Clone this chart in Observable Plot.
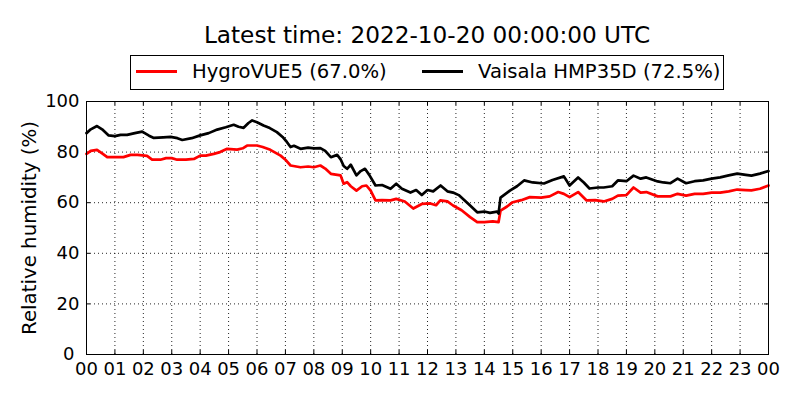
<!DOCTYPE html>
<html>
<head>
<meta charset="utf-8">
<script src="https://cdn.jsdelivr.net/npm/d3@7"></script>
<script src="https://cdn.jsdelivr.net/npm/@observablehq/plot@0.6"></script>
<style>
  html, body { margin: 0; padding: 0; background: #fff; }
  body { width: 800px; height: 400px; overflow: hidden; font-family: "DejaVu Sans", sans-serif; }
  #head { position: relative; width: 800px; height: 95px; }
  #title { position: absolute; left: 86px; width: 682px; top: 23px; text-align: center; font-size: 23.2px; line-height: 23.2px; white-space: nowrap; }
  #legend { position: absolute; left: 130px; top: 55px; width: 594px; height: 35px; box-sizing: border-box; border: 1px solid #000; }
  .sw { position: absolute; height: 3px; width: 41px; top: 14px; }
  .lt { position: absolute; top: 6px; font-size: 19.6px; line-height: 19.6px; white-space: nowrap; }
</style>
</head>
<body>
<div id="head">
  <div id="title"></div>
  <div id="legend"></div>
</div>
<div id="chart"></div>
<script>
// ---- data (hours since 2022-10-19 00:00 UTC, relative humidity %) ----
const titleText = "Latest time: 2022-10-20 00:00:00 UTC";
const yLabel = "Relative humidity (%)";
const seriesNames = ["HygroVUE5 (67.0%)", "Vaisala HMP35D (72.5%)"];
const seriesColors = ["#ff0000", "#000000"];

const hygroHours = [0.0,0.15,0.37,0.55,0.73,1.0,1.3,1.55,1.8,2.13,2.31,2.6,2.8,3.0,3.19,3.5,3.78,4.0,4.2,4.48,4.7,4.95,5.3,5.5,5.65,6.0,6.2,6.47,6.83,7.0,7.18,7.53,7.8,8.0,8.23,8.4,8.6,8.94,9.05,9.17,9.3,9.5,9.7,9.85,10.0,10.17,10.4,10.7,10.9,11.2,11.5,11.8,12.1,12.3,12.45,12.7,12.9,13.2,13.5,13.75,14.0,14.3,14.5,14.57,14.8,15.0,15.3,15.6,16.0,16.3,16.6,16.8,17.0,17.3,17.6,17.9,18.2,18.5,18.7,19.0,19.25,19.5,19.7,20.1,20.55,20.8,21.1,21.4,21.7,22.0,22.3,22.6,22.9,23.2,23.4,23.7,24.0];
const hygroRH = [79.3,80.5,80.9,79.5,78,78,78,78.9,78.9,78.5,77,77,77.6,77.6,77,77,77.3,78.6,78.6,79.3,80,81.3,81,81.5,82.6,82.6,82,80.9,78.6,77,74.7,74,74.3,74,74.7,73.5,71.4,70.8,67.5,68.1,66.5,64.8,66.5,66.8,64.8,60.9,61,60.9,61.5,60.5,57.7,59.5,59.7,59,60.9,60.5,58.9,57,54.3,52.3,52.3,52.6,52.3,56.9,58.5,60.2,61,62.2,62,62.5,64.2,63.5,62.2,64.2,60.9,61,60.5,61.5,62.8,63,66,64,64.2,62.5,62.5,63.5,62.8,63.5,63.5,64,64,64.5,65.2,65,64.9,65.5,66.8];

const vaisalaHours = [0.0,0.15,0.37,0.55,0.78,1.0,1.2,1.43,1.7,1.96,2.2,2.37,2.7,2.96,3.2,3.37,3.7,4.0,4.3,4.6,4.9,5.18,5.35,5.53,5.7,5.83,6.0,6.23,6.45,6.7,6.9,7.05,7.18,7.3,7.53,7.8,8.0,8.23,8.4,8.6,8.82,8.95,9.05,9.17,9.3,9.5,9.65,9.8,9.95,10.17,10.4,10.7,10.9,11.1,11.4,11.6,11.8,12.0,12.2,12.46,12.7,12.9,13.1,13.3,13.5,13.75,14.0,14.2,14.45,14.5,14.57,14.9,15.15,15.4,15.7,16.1,16.4,16.8,17.0,17.3,17.5,17.7,18.0,18.2,18.5,18.7,19.0,19.25,19.5,19.7,20.1,20.3,20.55,20.8,21.1,21.4,21.7,22.0,22.3,22.6,22.9,23.2,23.4,23.7,24.0];
const vaisalaRH = [87.5,89,90.3,89,86.6,86.3,86.8,86.8,87.5,88.1,86.5,85.6,85.8,86,85.5,84.8,85.5,86.6,87.5,88.9,89.8,90.8,90,89.6,91.5,92.5,91.8,90.5,89.5,87.9,86,84,82,82.5,81.3,81.8,81.5,81.6,80.5,78,78.9,77,74.5,73.4,75,70.8,72.5,73.4,71,66.8,67,65.5,67.5,65.5,64,65,63,65,64.5,66.8,64.5,64,63,61,58.9,56.2,56.5,56,56.5,55.7,62,64.8,66.5,68.8,68,67.6,69,70.4,66.8,70,68,65.6,66,66,66.5,68.8,68.5,70.7,69.5,70,68.4,68,67.7,69.5,67.7,68.5,68.8,69.5,70,70.8,71.5,71,70.7,71.5,72.5];

const xTicks = d3.range(0, 25);
const yTicks = [0, 20, 40, 60, 80, 100];
const xTickLabels = xTicks.map(h => String(h % 24).padStart(2, "0"));

// ---- header (title + legend) ----
document.getElementById("title").textContent = titleText;
const legend = document.getElementById("legend");
const swLeft = [5, 291], txtLeft = [61, 347];
seriesNames.forEach((name, i) => {
  const sw = document.createElement("div");
  sw.className = "sw"; sw.style.left = swLeft[i] + "px"; sw.style.background = seriesColors[i];
  legend.appendChild(sw);
  const t = document.createElement("div");
  t.className = "lt"; t.style.left = txtLeft[i] + "px"; t.textContent = name;
  legend.appendChild(t);
});

// ---- chart ----
const hygro = hygroHours.map((h, i) => ({h, v: hygroRH[i]}));
const vaisala = vaisalaHours.map((h, i) => ({h, v: vaisalaRH[i]}));

const W = 800, H = 305, mL = 86, mR = 32, mT = 6, mB = 46;
const innerW = W - mL - mR, innerH = H - mT - mB;
const tk = 4;
const gridStyle = {stroke: "#000", strokeOpacity: 0.85, strokeWidth: 1, strokeDasharray: "1,3"};

const chart = Plot.plot({
  width: W, height: H,
  marginLeft: mL, marginRight: mR, marginTop: mT, marginBottom: mB,
  style: {fontFamily: "DejaVu Sans", fontSize: "18px", color: "#000", background: "#fff", overflow: "visible"},
  x: {domain: [0, 24]},
  y: {domain: [0, 100]},
  marks: [
    Plot.gridX(xTicks, gridStyle),
    Plot.gridY(yTicks, gridStyle),
    Plot.axisX(xTicks, {tickSize: 0, tickPadding: 8, tickFormat: (d, i) => xTickLabels[i], label: null, fontSize: 18}),
    Plot.axisY(yTicks.filter(d => d > 0), {tickSize: 0, tickPadding: 7, label: null, fontSize: 18}),
    Plot.axisY(yTicks.filter(d => d === 0), {tickSize: 0, tickPadding: 12, label: null, fontSize: 18}),
    Plot.tickX(xTicks, {x: d => d, insetTop: innerH - tk, stroke: "#000"}),
    Plot.tickX(xTicks, {x: d => d, insetBottom: innerH - tk, stroke: "#000"}),
    Plot.tickY(yTicks, {y: d => d, insetRight: innerW - tk, stroke: "#000"}),
    Plot.tickY(yTicks, {y: d => d, insetLeft: innerW - tk, stroke: "#000"}),
    Plot.line(hygro, {x: "h", y: "v", stroke: seriesColors[0], strokeWidth: 2.7}),
    Plot.line(vaisala, {x: "h", y: "v", stroke: seriesColors[1], strokeWidth: 2.7}),
    Plot.frame({stroke: "#000", strokeWidth: 1}),
    Plot.text([yLabel], {frameAnchor: "left", textAnchor: "middle", text: d => d, rotate: -90, dx: -57, fontSize: 19.8, fill: "#000"})
  ]
});
document.getElementById("chart").appendChild(chart);
</script>
</body>
</html>
